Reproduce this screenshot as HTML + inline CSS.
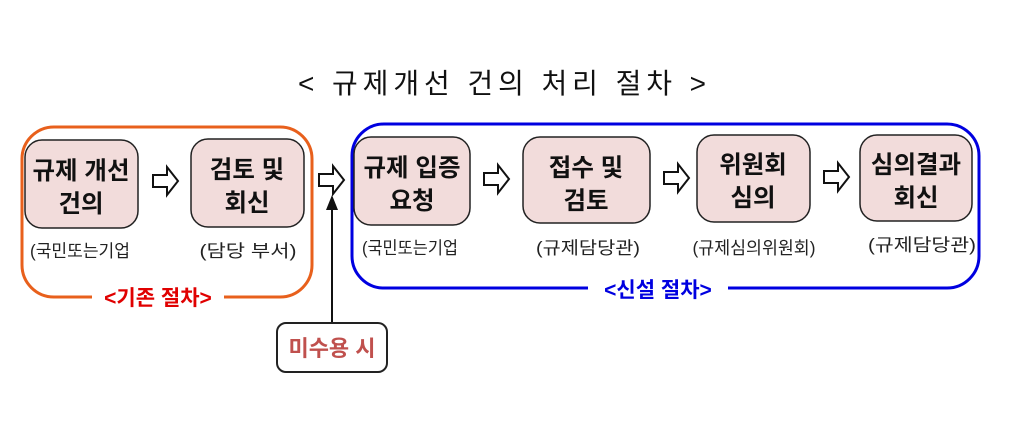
<!DOCTYPE html>
<html><head><meta charset="utf-8"><style>
body{margin:0;background:#fff}
svg{display:block}
text{font-family:"Liberation Sans","Noto Sans CJK KR",sans-serif}
.b{fill:#f2dcdb;stroke:#222;stroke-width:1.5}
.t{font-size:24.5px;font-weight:bold;fill:#111;text-anchor:middle}
.s{font-size:17.5px;fill:#222;text-anchor:middle}
.a{fill:#fff;stroke:#111;stroke-width:2}
</style></head><body>
<svg width="1023" height="437" viewBox="0 0 1023 437">
<text x="502" y="93" font-size="28" text-anchor="middle" textLength="408" lengthAdjust="spacing" fill="#111">&lt; 규제개선 건의 처리 절차 &gt;</text>

<rect x="22" y="127" width="290" height="170" rx="32" fill="none" stroke="#e8601c" stroke-width="3"/>
<rect x="92" y="287" width="132" height="20" fill="#fff"/>
<text x="158" y="305" font-size="21" font-weight="bold" fill="#e00000" text-anchor="middle">&lt;기존 절차&gt;</text>

<rect x="352" y="124" width="627" height="164" rx="32" fill="none" stroke="#0000e0" stroke-width="3"/>
<rect x="588" y="278" width="140" height="20" fill="#fff"/>
<text x="658" y="297" font-size="21" font-weight="bold" fill="#0000e0" text-anchor="middle">&lt;신설 절차&gt;</text>

<rect class="b" x="25" y="140" width="113" height="88" rx="17"/>
<text class="t" x="81" y="179">규제 개선</text><text class="t" x="81" y="212">건의</text>
<text class="s" x="80" y="257" textLength="100" lengthAdjust="spacingAndGlyphs">(국민또는기업</text>

<rect class="b" x="191" y="139" width="113" height="88" rx="17"/>
<text class="t" x="247" y="178">검토 및</text><text class="t" x="247" y="211">회신</text>
<text class="s" x="248" y="257" textLength="97" lengthAdjust="spacingAndGlyphs">(담당 부서)</text>

<rect class="b" x="354" y="137" width="116" height="88" rx="17"/>
<text class="t" x="412" y="176">규제 입증</text><text class="t" x="412" y="209">요청</text>
<text class="s" x="410" y="254" textLength="96" lengthAdjust="spacingAndGlyphs">(국민또는기업</text>

<rect class="b" x="523" y="137" width="127" height="86" rx="17"/>
<text class="t" x="586" y="176">접수 및</text><text class="t" x="586" y="209">검토</text>
<text class="s" x="588" y="254" textLength="104" lengthAdjust="spacingAndGlyphs">(규제담당관)</text>

<rect class="b" x="697" y="135" width="113" height="87" rx="17"/>
<text class="t" x="753" y="173">위원회</text><text class="t" x="753" y="206">심의</text>
<text class="s" x="754" y="254" textLength="123" lengthAdjust="spacingAndGlyphs">(규제심의위원회)</text>

<rect class="b" x="860" y="135" width="112" height="86" rx="17"/>
<text class="t" x="916" y="173">심의결과</text><text class="t" x="916" y="206">회신</text>
<text class="s" x="922" y="251" textLength="108" lengthAdjust="spacingAndGlyphs">(규제담당관)</text>

<g class="a">
<path d="M153,175 h14 v-8 l11,14 l-11,14 v-8 h-14 z"/>
<path d="M319,174 h14 v-8 l11,14 l-11,14 v-8 h-14 z"/>
<path d="M484,173 h14 v-8 l11,14 l-11,14 v-8 h-14 z"/>
<path d="M664,172 h14 v-8 l11,14 l-11,14 v-8 h-14 z"/>
<path d="M824,171 h14 v-8 l11,14 l-11,14 v-8 h-14 z"/>
</g>

<line x1="332" y1="205" x2="332" y2="323" stroke="#111" stroke-width="2"/>
<path d="M326,210 L332,195 L338,210 Z" fill="#111"/>
<rect x="277" y="323" width="110" height="49" rx="9" fill="#fff" stroke="#222" stroke-width="2"/>
<text x="332" y="356" font-size="22" font-weight="bold" fill="#c0504d" text-anchor="middle">미수용 시</text>
</svg>
</body></html>
